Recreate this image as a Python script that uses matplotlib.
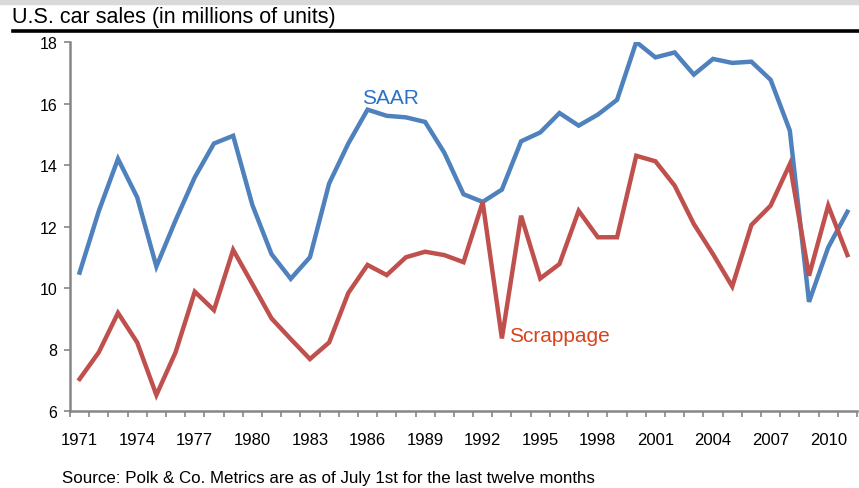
import matplotlib.pyplot as plt
from matplotlib.ticker import FixedLocator, NullFormatter

years = list(range(1971, 2012))
saar = [10.5, 12.5, 14.2, 12.95, 10.7, 12.2, 13.6, 14.7, 14.95, 12.7,
        11.1, 10.3, 11.0, 13.4, 14.7, 15.8, 15.6, 15.55, 15.4, 14.4,
        13.05, 12.8, 13.2, 14.77, 15.06, 15.69, 15.28, 15.64, 16.12, 18.0,
        17.5, 17.66, 16.94, 17.45, 17.32, 17.36, 16.77, 15.12, 9.55, 11.32,
        12.48]
scrappage = [7.04, 7.91, 9.19, 8.23, 6.52, 7.91, 9.88, 9.28, 11.24, 10.13,
             9.01, 8.34, 7.69, 8.23, 9.84, 10.75, 10.42, 11.0, 11.18, 11.07,
             10.84, 12.79, 8.36, 12.35, 10.31, 10.78, 12.51, 11.65, 11.65, 14.3,
             14.12, 13.33, 12.08, 11.1, 10.05, 12.05, 12.68, 14.03, 10.4, 12.68,
             11.07]
yticks = [6, 8, 10, 12, 14, 16, 18]
label_years = years[::3]

narrow = ["Liberation Sans Narrow", "Liberation Sans", "DejaVu Sans"]
regular = ["Liberation Sans", "DejaVu Sans"]

fig = plt.figure(figsize=(8.59, 4.89), dpi=100)
W, H = 859, 489

# axes box in pixels: left 70, right 857, top 43, bottom 412
ax = fig.add_axes([70 / W, 1 - 412 / H, 787 / W, 369 / H])

ax.plot(years, saar, color="#4F81BD", lw=3.2, solid_joinstyle="miter", zorder=3)
ax.plot(years, scrappage, color="#C0504D", lw=3.2, solid_joinstyle="miter", zorder=3)

ax.set_xlim(years[0] - 0.5, years[-1] + 0.5)
ax.set_ylim(6, 18)

ax.set_yticks(yticks)
ax.set_yticklabels([str(t) for t in yticks], family=narrow, fontsize=11.5)
ax.xaxis.set_major_locator(FixedLocator([y - 0.5 for y in years] + [years[-1] + 0.5]))
ax.xaxis.set_major_formatter(NullFormatter())
ax.tick_params(axis="both", color="#868686", width=1.2, length=4, direction="out")
ax.tick_params(axis="y", pad=5)

for y in label_years:
    ax.text(y, -0.077, str(y), transform=ax.get_xaxis_transform(),
            ha="center", va="center", family=narrow, fontsize=12)

for side in ["top", "right"]:
    ax.spines[side].set_visible(False)
for side in ["left", "bottom"]:
    ax.spines[side].set_color("#868686")
    ax.spines[side].set_linewidth(1.8)

ax.text(1985.7, 15.9, "SAAR", color="#2A72C8", fontsize=15, family=regular,
        ha="left", va="bottom")
ax.text(1993.35, 8.47, "Scrappage", color="#D9441C", fontsize=15, family=regular,
        ha="left", va="center")

# top grey band and heading rule
fig.patches.append(plt.Rectangle((0, 1 - 5 / H), 1, 5 / H, transform=fig.transFigure,
                                 color="#D9D9D9", zorder=0))
fig.add_artist(plt.Line2D([13 / W, 1], [1 - 31.5 / H, 1 - 31.5 / H],
                          color="black", lw=2.6, transform=fig.transFigure))
fig.text(12 / W, 1 - 17 / H, "U.S. car sales (in millions of units)", family=narrow,
         fontsize=15.5, ha="left", va="center")
fig.text(62 / W, 1 - 479 / H,
         "Source: Polk & Co. Metrics are as of July 1st for the last twelve months",
         family=narrow, fontsize=12.2, ha="left", va="center")

fig.savefig("out.png", dpi=100)
